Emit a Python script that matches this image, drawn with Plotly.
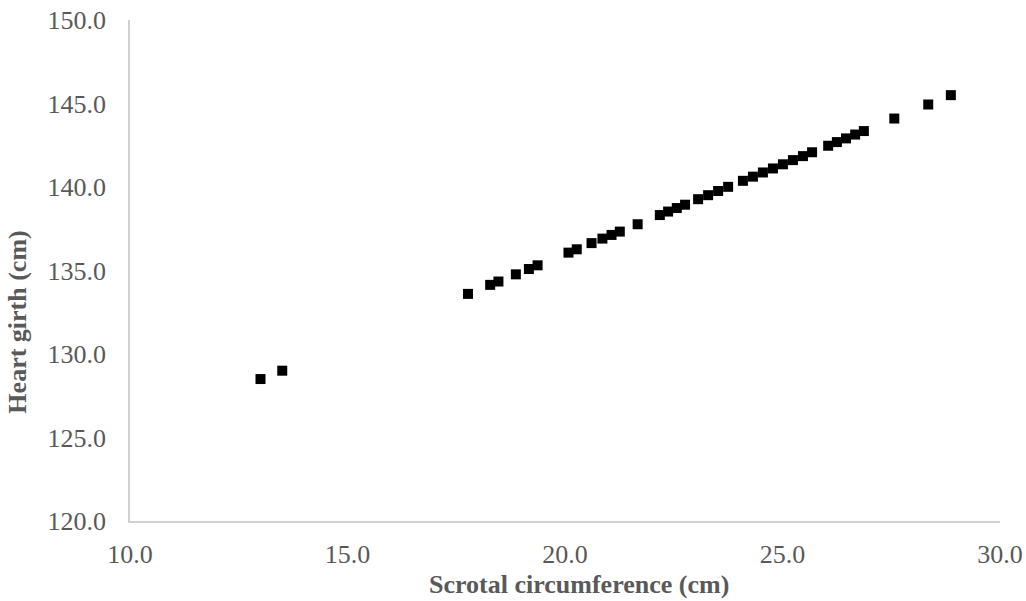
import plotly.graph_objects as go

scrotal_circumference = [
    13.0, 13.5, 17.77, 18.28, 18.47, 18.87, 19.17, 19.37, 20.08, 20.27,
    20.61, 20.86, 21.07, 21.26, 21.67, 22.18, 22.37, 22.57, 22.76, 23.06,
    23.29, 23.52, 23.75, 24.09, 24.32, 24.55, 24.78, 25.01, 25.24, 25.47,
    25.68, 26.05, 26.25, 26.46, 26.67, 26.87, 27.57, 28.35, 28.87,
]
heart_girth = [
    128.5, 129.0, 133.6, 134.14, 134.34, 134.77, 135.09, 135.31, 136.07, 136.27,
    136.64, 136.91, 137.13, 137.33, 137.77, 138.32, 138.53, 138.74, 138.94, 139.27,
    139.51, 139.76, 140.01, 140.37, 140.62, 140.87, 141.11, 141.36, 141.61, 141.85,
    142.08, 142.47, 142.69, 142.91, 143.14, 143.35, 144.10, 144.94, 145.50,
]
x_title = "Scrotal circumference (cm)"
y_title = "Heart girth (cm)"

fig = go.Figure()
fig.add_trace(go.Scatter(
    x=scrotal_circumference, y=heart_girth, mode="markers",
    marker=dict(symbol="square", size=10, color="black", line=dict(width=0)),
    showlegend=False,
))

tick_font = dict(family="Liberation Serif", size=26, color="#595959")
fig.update_layout(
    width=1026, height=601,
    margin=dict(l=130, r=26, t=20, b=79.5, autoexpand=False),
    plot_bgcolor="white", paper_bgcolor="white",
    xaxis=dict(range=[10, 30], dtick=5, tick0=10, tickformat=".1f",
               showgrid=False, zeroline=False, showline=True, automargin=False,
               linecolor="#D0D0D0", linewidth=1.5, ticks="",
               tickfont=tick_font, ticklabelstandoff=9),
    yaxis=dict(range=[120, 150], dtick=5, tick0=120, tickformat=".1f",
               showgrid=False, zeroline=False, showline=True, automargin=False,
               linecolor="#D0D0D0", linewidth=1.5, ticks="",
               tickfont=tick_font, ticklabelstandoff=17),
    annotations=[
        dict(text="<b>%s</b>" % x_title, xref="paper", yref="paper",
             x=0.516, y=-0.127, xanchor="center", yanchor="middle",
             showarrow=False,
             font=dict(family="Liberation Serif", size=26, color="#595959")),
        dict(text="<b>%s</b>" % y_title, xref="paper", yref="paper",
             x=-0.1287, y=0.396, xanchor="center", yanchor="middle",
             textangle=-90, showarrow=False,
             font=dict(family="Liberation Serif", size=26, color="#595959")),
    ],
)

fig.write_html("out.html")
